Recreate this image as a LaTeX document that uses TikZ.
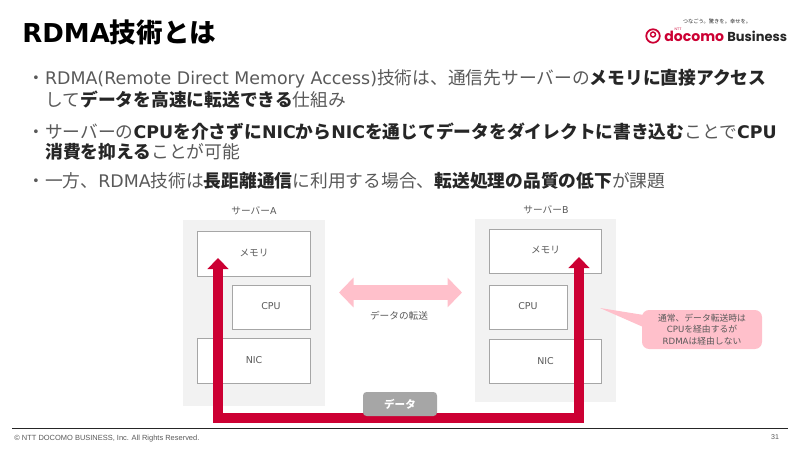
\documentclass[tikz,border=0pt]{standalone}
\usepackage{fontspec}
\setmainfont{Noto Sans CJK JP}
\newfontfamily\lat[Scale=0.98]{DejaVu Sans}
\newfontfamily\foot{Liberation Sans}
\newfontfamily\brand{Poppins}
\usetikzlibrary{arrows.meta}
\definecolor{nttred}{HTML}{CC0033}
\definecolor{softpink}{HTML}{FFC0CB}
\definecolor{panelgray}{HTML}{F2F2F2}
\definecolor{rimgray}{HTML}{A6A6A6}
\definecolor{bodygray}{HTML}{595959}
\definecolor{darkink}{HTML}{262626}
\newcommand{\bd}[1]{{\bfseries\color{darkink}#1}}

\begin{document}
\begin{tikzpicture}[x=.02cm,y=-.02cm]
\tikzstyle{panel}=[fill=panelgray,draw=none,anchor=north west,inner sep=0pt]
\tikzstyle{part}=[fill=white,draw=rimgray,line width=.5pt,inner sep=0pt,outer sep=0pt]
\tikzstyle{small}=[text=bodygray,font=\fontsize{5.5}{6.5}\selectfont,inner sep=0pt]
\tikzstyle{bullet}=[anchor=west,inner sep=0pt,text=bodygray,font=\fontsize{10.1}{12}\selectfont]
\tikzstyle{bigarrow}=[nttred,line width=.2cm,-{Triangle[width=.41cm,length=.22cm]}]

\useasboundingbox (0,0) rectangle (800,450);

% header
\node (title) [anchor=west,inner sep=0pt,text=black,font=\fontsize{15.1}{18}\selectfont\bfseries] at (22,32) {{\lat RDMA}技術とは};
\node (tagline) [inner sep=0pt,text=darkink,font=\fontsize{3}{4}\selectfont] at (717,21) {つなごう。驚きを。幸せを。};
\node (logo) [circle,draw=nttred,line width=1pt,minimum size=.27cm,inner sep=0pt] at (653,36) {};
\node (logodot) [circle,draw=nttred,line width=.8pt,minimum size=.1cm,inner sep=0pt] at (653,34.5) {};
\node (ntt) [inner sep=0pt,text=nttred,font=\foot\fontsize{2}{3}\selectfont] at (678,29) {NTT};
\node (docomo) [anchor=west,inner sep=0pt,text=nttred,font=\brand\fontsize{8}{10}\selectfont\bfseries] at (664,36.5) {docomo};
\node (business) [anchor=west,inner sep=0pt,text=darkink,font=\brand\fontsize{7.4}{10}\selectfont\bfseries] at (727,36.5) {Business};

% bullets
\node (lineA) [bullet] at (27,79) {・{\lat RDMA(Remote Direct Memory Access)}技術は、通信先サーバーの\bd{メモリに直接アクセス}};
\node (lineB) [bullet] at (45,100) {して\bd{データを高速に転送できる}仕組み};
\node (lineC) [bullet] at (27,132) {・サーバーの\bd{{\lat CPU}を介さずに{\lat NIC}から{\lat NIC}を通じてデータをダイレクトに書き込む}ことで\bd{\lat CPU}};
\node (lineD) [bullet] at (45,152) {\bd{消費を抑える}ことが可能};
\node (lineE) [bullet] at (27,181) {・一方、{\lat RDMA}技術は\bd{長距離通信}に利用する場合、\bd{転送処理の品質の低下}が課題};

% server A
\node (serverA) [panel,minimum width=2.84cm,minimum height=3.72cm] at (183,220) {};
\node (labelA) [small] at (254,211) {サーバー{\lat A}};
\node (memA) [part,minimum width=2.27cm,minimum height=.89cm] at (253.7,253.7) {};
\node (cpuA) [part,minimum width=1.57cm,minimum height=.88cm] at (271.2,307.5) {};
\node (nicA) [part,minimum width=2.27cm,minimum height=.89cm] at (253.7,360.7) {};
\node [small] at (254,253) {メモリ};
\node [small] at (271,306) {\lat CPU};
\node [small] at (254,360) {\lat NIC};

% server B
\node (serverB) [panel,minimum width=2.82cm,minimum height=3.66cm] at (475,219) {};
\node (labelB) [small] at (546,210) {サーバー{\lat B}};
\node (memB) [part,minimum width=2.25cm,minimum height=.89cm] at (545.2,251.2) {};
\node (cpuB) [part,minimum width=1.57cm,minimum height=.88cm] at (528.2,307.5) {};
\node (nicB) [part,minimum width=2.25cm,minimum height=.89cm] at (545.2,361.2) {};
\node [small] at (545.5,250) {メモリ};
\node [small] at (528,306) {\lat CPU};
\node [small] at (545.5,361) {\lat NIC};

% transfer between the servers
\coordinate (swapL) at (339,292.5);
\coordinate (swapR) at (462,292.5);
\draw [softpink,line width=.3cm,{Triangle[width=.58cm,length=.29cm]}-{Triangle[width=.58cm,length=.29cm]}] (swapL) -- (swapR);
\node (swaptext) [small] at (399,316) {データの転送};

% red path
\coordinate (tipA) at (218,258);
\coordinate (tipB) at (579,257);
\coordinate (cornerA) at (218,417.5);
\coordinate (cornerB) at (579,417.5);
\draw [bigarrow,{Triangle[width=.41cm,length=.22cm]}-{Triangle[width=.41cm,length=.22cm]},line join=miter] (tipA) -- (cornerA) -- (cornerB) -- (tipB);
\node (datapill) [fill=rimgray,rounded corners=2pt,minimum width=1.48cm,minimum height=.48cm,inner sep=0pt,text=white,font=\fontsize{6}{7}\selectfont\bfseries] at (400,404) {データ};

% callout
\fill [softpink] (600,308) -- (650,316) -- (650,330) -- cycle;
\node (note) [fill=softpink,rounded corners=4pt,minimum width=2.4cm,minimum height=.78cm,inner sep=0pt,align=center,text=bodygray,font=\fontsize{5}{6.6}\selectfont] at (702,329.5) {通常、データ転送時は\\{\lat CPU}を経由するが\\{\lat RDMA}は経由しない};

% footer
\coordinate (ruleL) at (12,428.5);
\coordinate (ruleR) at (788,428.5);
\draw [darkink,line width=.6pt] (ruleL) -- (ruleR);
\node (copyright) [anchor=west,inner sep=0pt,text=bodygray,font=\foot\fontsize{4.25}{6}\selectfont] at (14,438.5) {© NTT DOCOMO BUSINESS, Inc. All Rights Reserved.};
\node (pageno) [inner sep=0pt,text=bodygray,font=\foot\fontsize{4}{5}\selectfont] at (775,437.5) {31};

\end{tikzpicture}
\end{document}
